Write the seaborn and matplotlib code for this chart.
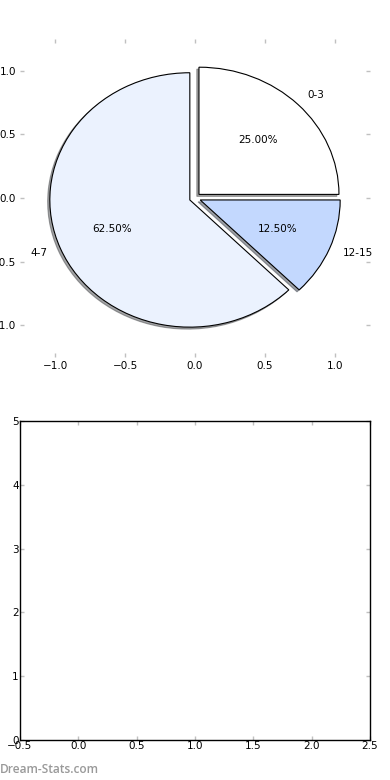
import matplotlib
matplotlib.use("Agg")
import matplotlib.pyplot as plt
import seaborn as sns

categories = ["0-3", "4-7", "12-15"]
values = [2, 5, 1]
colors = ["#ffffff", "#ebf2fe", "#c3d8fe"]
explode = [0.04, 0.04, 0.04]
bottom_xlim = (-0.5, 2.5)
bottom_ylim = (0, 5)

sns.set_theme(style="white")
plt.rcParams["font.family"] = ["DejaVu Sans"]
plt.rcParams.update({
    "xtick.direction": "in", "ytick.direction": "in",
    "xtick.top": True, "ytick.right": True,
    "xtick.bottom": True, "ytick.left": True,
    "xtick.major.size": 3, "ytick.major.size": 3,
    "xtick.major.width": 1, "ytick.major.width": 1,
    "xtick.color": "#c0c0c0", "ytick.color": "#c0c0c0",
    "xtick.labelcolor": "black", "ytick.labelcolor": "black",
    "xtick.labelsize": 7.5, "ytick.labelsize": 7.5,
    "xtick.major.pad": 3, "ytick.major.pad": 3,
    "axes.edgecolor": "black", "axes.linewidth": 1,
})

fig = plt.figure(figsize=(3.9, 7.8), dpi=100)
ax1 = fig.add_axes([20/390, (780-357)/780, 350/390, 318/780])
ax2 = fig.add_axes([20/390, (780-740)/780, 350/390, 319/780])

wedges, texts, autotexts = ax1.pie(
    values, labels=categories, colors=colors, explode=explode,
    autopct="%.2f%%", shadow={"ox": -0.011, "oy": -0.011}, startangle=0,
    wedgeprops={"edgecolor": "black", "linewidth": 0.8},
    textprops={"fontsize": 7.5, "color": "black"},
)
ax1.set_aspect("auto")
ax1.set_xlim(-1.25, 1.25)
ax1.set_ylim(-1.25, 1.25)
ax1.set_xticks([-1.0, -0.5, 0.0, 0.5, 1.0])
ax1.set_yticks([-1.0, -0.5, 0.0, 0.5, 1.0])
for s in ax1.spines.values():
    s.set_visible(False)

ax2.set_xlim(*bottom_xlim)
ax2.set_ylim(*bottom_ylim)
ax2.set_xticks([-0.5, 0.0, 0.5, 1.0, 1.5, 2.0, 2.5])
ax2.set_yticks([0, 1, 2, 3, 4, 5])
ax2.tick_params(pad=1)

fig.text(0.0, 0.005, "Dream-Stats.com", color="#999999", fontsize=8.6,
         family=["Open Sans", "DejaVu Sans"], fontweight="semibold",
         ha="left", va="bottom")

fig.savefig("out.png", dpi=100, facecolor="white")
